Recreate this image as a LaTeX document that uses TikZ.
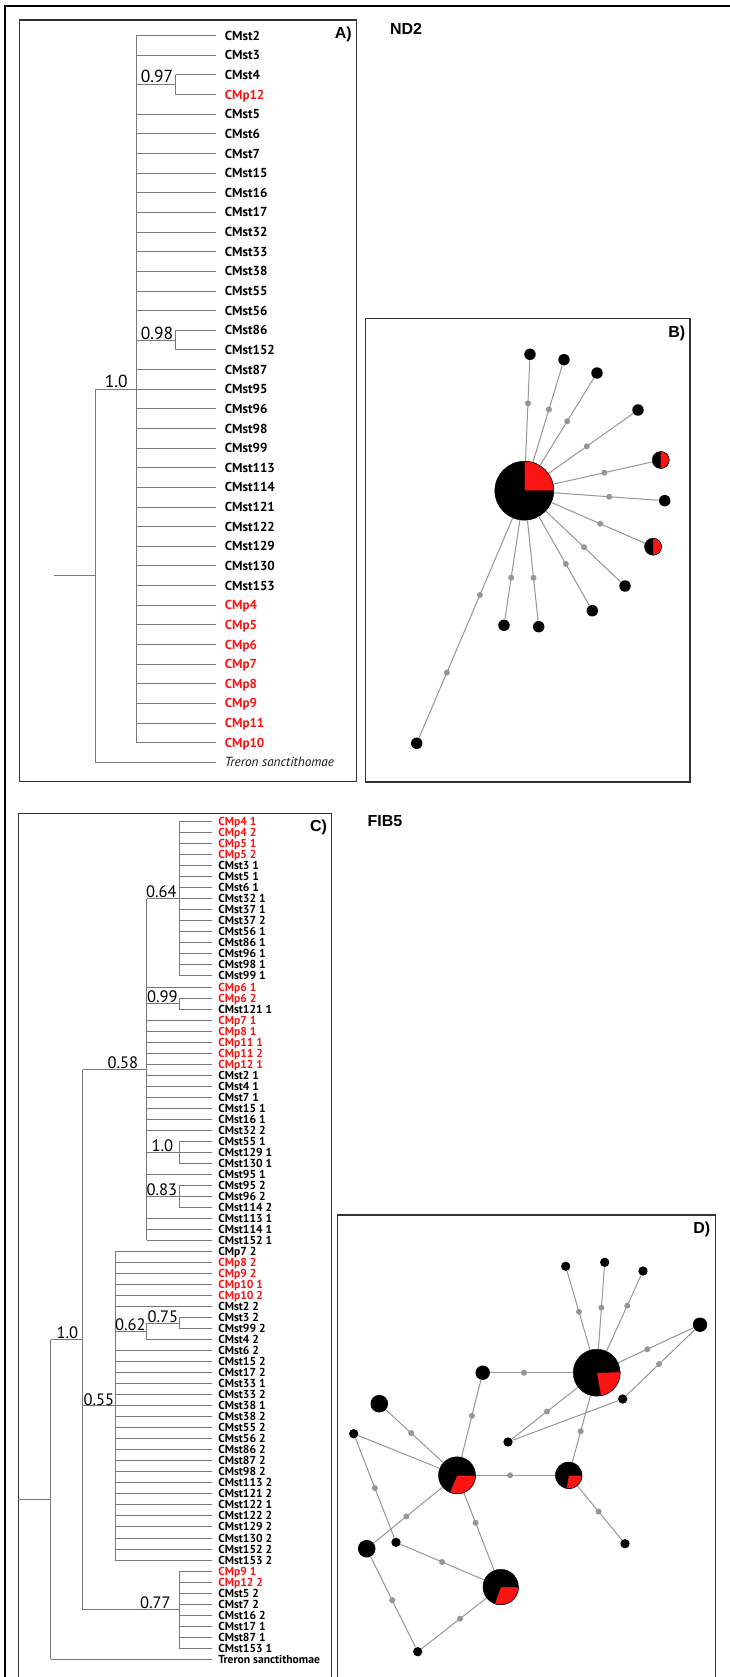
\documentclass[tikz,border=0pt]{standalone}
\usepackage{fontspec}
\usetikzlibrary{calc}
\newfontfamily\ptsans{PT Sans}
\newfontfamily\libsans{Liberation Sans}
\definecolor{myred}{RGB}{250,20,20}
\definecolor{treegray}{RGB}{120,120,120}
\definecolor{netgray}{RGB}{150,150,150}
\definecolor{boxgray}{RGB}{50,50,50}
\newcommand\RA[1]{35.7+19.64*#1}
\newcommand\RC[1]{821.7+11.02*#1}
\begin{document}
\begin{tikzpicture}[x=0.75pt,y=-0.75pt,
  tline/.style={draw=treegray,line width=0.75pt},
  panelbox/.style={draw=boxgray,line width=1pt},
  alab/.style={font=\ptsans\bfseries\fontsize{9.8}{11}\selectfont,inner sep=0pt,anchor=base west},
  clab/.style={font=\ptsans\bfseries\fontsize{8.7}{9.5}\selectfont,inner sep=0pt,anchor=base west},
  bsA/.style={font=\ptsans\fontsize{13.1}{14}\selectfont,inner sep=0pt,anchor=base east},
  bsC/.style={font=\ptsans\fontsize{12.4}{13}\selectfont,inner sep=0pt,anchor=base east},
  ptitle/.style={font=\libsans\bfseries\fontsize{12}{13}\selectfont,inner sep=0pt},
  netline/.style={draw=netgray,line width=0.75pt},
  hub/.style={circle,fill=black,draw=black,line width=0.3pt,inner sep=0pt},
  leafB/.style={circle,fill=black,inner sep=0pt,minimum size=8.6pt},
  leafD/.style={circle,fill=black,inner sep=0pt,minimum size=7pt},
  mv/.style={circle,fill=netgray,inner sep=0pt,minimum size=4.5pt},
  redpart/.style={fill=myred,draw=black,line width=0.3pt}]
\useasboundingbox (0,0) rectangle (729,1677);
\fill[white] (0,0) rectangle (729,1677);

% outer frame
\draw[black,line width=1.5pt] (5,1690) -- (5,5.7) -- (740,5.7);

% panel boxes
\draw[panelbox] (19.3,20) rectangle (356.7,781.7);
\draw[panelbox] (365.7,318.3) rectangle (690,782);
\draw[panelbox] (18.3,1690) -- (18.3,813.3) -- (331.7,813.3) -- (331.7,1690);
\draw[panelbox] (337.3,1690) -- (337.3,1215) -- (715.7,1215) -- (715.7,1690);

% titles
\node[ptitle,anchor=base east] (tA) at (352,38.5) {A)};
\node[ptitle,anchor=base east] (tB) at (685.5,337.5) {B)};
\node[ptitle,anchor=base east] (tC) at (327.3,831.5) {C)};
\node[ptitle,anchor=base east] (tD) at (710.5,1233) {D)};
\node[ptitle,anchor=base] (tND) at (406,35) {ND2};
\node[ptitle,anchor=base] (tFIB) at (385,826.7) {FIB5};

% ================= Tree A =================
\foreach \r/\p/\t/\c in {0/136/CMst2/black,1/136/CMst3/black,2/175.7/CMst4/black,3/175.7/CMp12/myred,
 4/136/CMst5/black,5/136/CMst6/black,6/136/CMst7/black,7/136/CMst15/black,8/136/CMst16/black,
 9/136/CMst17/black,10/136/CMst32/black,11/136/CMst33/black,12/136/CMst38/black,13/136/CMst55/black,
 14/136/CMst56/black,15/175.7/CMst86/black,16/175.7/CMst152/black,17/136/CMst87/black,18/136/CMst95/black,
 19/136/CMst96/black,20/136/CMst98/black,21/136/CMst99/black,22/136/CMst113/black,23/136/CMst114/black,
 24/136/CMst121/black,25/136/CMst122/black,26/136/CMst129/black,27/136/CMst130/black,28/136/CMst153/black,
 29/136/CMp4/myred,30/136/CMp5/myred,31/136/CMp6/myred,32/136/CMp7/myred,33/136/CMp8/myred,
 34/136/CMp9/myred,35/136/CMp11/myred,36/136/CMp10/myred}{
  \coordinate (ap\r) at (\p,{\RA{\r}});
  \coordinate (ae\r) at (216,{\RA{\r}});
  \draw[tline] (ap\r) -- (ae\r);
  \node[alab,text=\c] (al\r) at (224.5,{\RA{\r}+4.5}) {\t};
}
\coordinate (ap37) at (95,{\RA{37}});
\coordinate (ae37) at (216,{\RA{37}});
\draw[tline] (ap37) -- (ae37);
\node[alab,font=\ptsans\itshape\fontsize{9.9}{11}\selectfont,text=black!90] (al37) at (224.5,{\RA{37}+4.5}) {Treron sanctithomae};
% internal nodes A
\draw[tline] (136,{\RA{0}}) -- (136,{\RA{36}});
\coordinate (nA097) at (136,{\RA{2.5}});
\draw[tline] (nA097) -- (175.7,{\RA{2.5}});
\draw[tline] (175.7,{\RA{2}}) -- (175.7,{\RA{3}});
\coordinate (nA098) at (136,{\RA{15.5}});
\draw[tline] (nA098) -- (175.7,{\RA{15.5}});
\draw[tline] (175.7,{\RA{15}}) -- (175.7,{\RA{16}});
\coordinate (nA10) at (95,{\RA{18}});
\draw[tline] (nA10) -- (136,{\RA{18}});
\draw[tline] (95,{\RA{18}}) -- (95,{\RA{37}});
\coordinate (nAroot) at (54,{\RA{27.5}});
\draw[tline] (nAroot) -- (95,{\RA{27.5}});
\node[bsA] (bA1) at (173.5,83) {0.97};
\node[bsA] (bA2) at (173.5,339) {0.98};
\node[bsA] (bA3) at (128,387.5) {1.0};

% ================= Tree C =================
\foreach \r/\p/\t/\c in {0/179.3/CMp4 1/myred,1/179.3/CMp4 2/myred,2/179.3/CMp5 1/myred,3/179.3/CMp5 2/myred,
 4/179.3/CMst3 1/black,5/179.3/CMst5 1/black,6/179.3/CMst6 1/black,7/179.3/CMst32 1/black,
 8/179.3/CMst37 1/black,9/179.3/CMst37 2/black,10/179.3/CMst56 1/black,11/179.3/CMst86 1/black,
 12/179.3/CMst96 1/black,13/179.3/CMst98 1/black,14/179.3/CMst99 1/black,15/146.7/CMp6 1/myred,
 16/179.3/CMp6 2/myred,17/179.3/CMst121 1/black,18/146.7/CMp7 1/myred,19/146.7/CMp8 1/myred,
 20/146.7/CMp11 1/myred,21/146.7/CMp11 2/myred,22/146.7/CMp12 1/myred,23/146.7/CMst2 1/black,
 24/146.7/CMst4 1/black,25/146.7/CMst7 1/black,26/146.7/CMst15 1/black,27/146.7/CMst16 1/black,
 28/146.7/CMst32 2/black,29/179.3/CMst55 1/black,30/179.3/CMst129 1/black,31/179.3/CMst130 1/black,
 32/146.7/CMst95 1/black,33/179.3/CMst95 2/black,34/179.3/CMst96 2/black,35/179.3/CMst114 2/black,
 36/146.7/CMst113 1/black,37/146.7/CMst114 1/black,38/146.7/CMst152 1/black,
 39/115/CMp7 2/black,40/115/CMp8 2/myred,41/115/CMp9 2/myred,42/115/CMp10 1/myred,43/115/CMp10 2/myred,
 44/115/CMst2 2/black,45/179.3/CMst3 2/black,46/179.3/CMst99 2/black,47/146.7/CMst4 2/black,
 48/115/CMst6 2/black,49/115/CMst15 2/black,50/115/CMst17 2/black,51/115/CMst33 1/black,
 52/115/CMst33 2/black,53/115/CMst38 1/black,54/115/CMst38 2/black,55/115/CMst55 2/black,
 56/115/CMst56 2/black,57/115/CMst86 2/black,58/115/CMst87 2/black,59/115/CMst98 2/black,
 60/115/CMst113 2/black,61/115/CMst121 2/black,62/115/CMst122 1/black,63/115/CMst122 2/black,
 64/115/CMst129 2/black,65/115/CMst130 2/black,66/115/CMst152 2/black,67/115/CMst153 2/black,
 68/179.3/CMp9 1/myred,69/179.3/CMp12 2/myred,70/179.3/CMst5 2/black,71/179.3/CMst7 2/black,
 72/179.3/CMst16 2/black,73/179.3/CMst17 1/black,74/179.3/CMst87 1/black,75/179.3/CMst153 1/black,
 76/50.7/Treron sanctithomae/black}{
  \coordinate (cp\r) at (\p,{\RC{\r}});
  \coordinate (ce\r) at (211.7,{\RC{\r}});
  \draw[tline] (cp\r) -- (ce\r);
  \node[clab,text=\c] (cl\r) at (218,{\RC{\r}+4}) {\t};
}
% internal nodes C
\draw[tline] (179.3,{\RC{0}}) -- (179.3,{\RC{14}});
\coordinate (nC064) at (146.7,{\RC{7}});
\draw[tline] (nC064) -- (179.3,{\RC{7}});
\draw[tline] (179.3,{\RC{16}}) -- (179.3,{\RC{17}});
\coordinate (nC099) at (146.7,{\RC{16.5}});
\draw[tline] (nC099) -- (179.3,{\RC{16.5}});
\draw[tline] (179.3,{\RC{29}}) -- (179.3,{\RC{31}});
\coordinate (nC10b) at (146.7,{\RC{30}});
\draw[tline] (nC10b) -- (179.3,{\RC{30}});
\draw[tline] (179.3,{\RC{33}}) -- (179.3,{\RC{35}});
\coordinate (nC083) at (146.7,{\RC{34}});
\draw[tline] (nC083) -- (179.3,{\RC{34}});
\draw[tline] (146.7,{\RC{7}}) -- (146.7,{\RC{38}});
\coordinate (nC058) at (82.7,{\RC{22.5}});
\draw[tline] (nC058) -- (146.7,{\RC{22.5}});
\draw[tline] (179.3,{\RC{45}}) -- (179.3,{\RC{46}});
\coordinate (nC075) at (146.7,{\RC{45.5}});
\draw[tline] (nC075) -- (179.3,{\RC{45.5}});
\draw[tline] (146.7,{\RC{45.5}}) -- (146.7,{\RC{47}});
\coordinate (nC062) at (115,{\RC{46.25}});
\draw[tline] (nC062) -- (146.7,{\RC{46.25}});
\draw[tline] (115,{\RC{39}}) -- (115,{\RC{67}});
\coordinate (nC055) at (82.7,{\RC{53}});
\draw[tline] (nC055) -- (115,{\RC{53}});
\draw[tline] (179.3,{\RC{68}}) -- (179.3,{\RC{75}});
\coordinate (nC077) at (82.7,{\RC{71.5}});
\draw[tline] (nC077) -- (179.3,{\RC{71.5}});
\draw[tline] (82.7,{\RC{22.5}}) -- (82.7,{\RC{71.5}});
\coordinate (nC10a) at (50.7,{\RC{47}});
\draw[tline] (nC10a) -- (82.7,{\RC{47}});
\draw[tline] (50.7,{\RC{47}}) -- (50.7,{\RC{76}});
\coordinate (nCroot) at (18.3,{\RC{61.5}});
\draw[tline] (nCroot) -- (50.7,{\RC{61.5}});
\node[bsC] (bC1) at (177,897.5) {0.64};
\node[bsC] (bC2) at (178,1002.5) {0.99};
\node[bsC] (bC3) at (138.5,1068.5) {0.58};
\node[bsC] (bC4) at (173.5,1151) {1.0};
\node[bsC] (bC5) at (177.5,1195.5) {0.83};
\node[bsC] (bC6) at (178.5,1322) {0.75};
\node[bsC] (bC7) at (146,1330.5) {0.62};
\node[bsC] (bC8) at (114.5,1405) {0.55};
\node[bsC] (bC9) at (171,1608.5) {0.77};
\node[bsC] (bC10) at (78.5,1338.5) {1.0};

% ================= Network B =================
\node[hub,minimum size=44.2pt] (Bc) at (524.3,490.7) {};
\node[leafB] (B1) at (530,354.3) {};
\node[leafB] (B2) at (564,359.7) {};
\node[leafB] (B3) at (597,373) {};
\node[leafB] (B4) at (638,410) {};
\node[hub,minimum size=12.8pt] (B5) at (660.7,460) {};
\node[leafB] (B6) at (664.7,500.7) {};
\node[hub,minimum size=12.8pt] (B7) at (653,546.7) {};
\node[leafB] (B8) at (625,586) {};
\node[leafB] (B9) at (592.3,610.7) {};
\node[leafB] (B10) at (538.7,626.7) {};
\node[leafB] (B11) at (504,625.3) {};
\node[leafB] (B12) at (416.7,743.3) {};
\foreach \n/\t in {1/0.64,2/0.62,3/0.59,4/0.55,5/0.587,6/0.605,7/0.59,8/0.593,9/0.61,10/0.64,11/0.646}{
  \draw[netline] (Bc) -- (B\n);
  \node[mv] (bm\n) at ($(Bc)!\t!(B\n)$) {};
}
\draw[netline] (Bc) -- (B12);
\node[mv] (bm12a) at ($(Bc)!0.413!(B12)$) {};
\node[mv] (bm12b) at ($(Bc)!0.72!(B12)$) {};
\draw[redpart] (Bc.center) -- ++(0:22.1pt) arc[start angle=0,end angle=90,radius=22.1pt] -- cycle;
\draw[redpart] (B5.center) -- ++(-90:6.4pt) arc[start angle=-90,end angle=90,radius=6.4pt] -- cycle;
\draw[redpart] (B7.center) -- ++(-90:6.4pt) arc[start angle=-90,end angle=90,radius=6.4pt] -- cycle;

% ================= Network D =================
\node[hub,minimum size=35.2pt] (N1) at (596.7,1372.7) {};
\node[hub,minimum size=27.8pt] (N2) at (457,1475.3) {};
\node[hub,minimum size=20pt] (N3) at (568.7,1475.3) {};
\node[hub,minimum size=26.6pt] (N4) at (500.7,1587) {};
\node[leafD] (Da) at (565.7,1266.3) {};
\node[leafD] (Db) at (604.7,1262.3) {};
\node[leafD] (Dc) at (643,1271) {};
\node[leafD,minimum size=10.8pt] (Dd) at (700,1324.7) {};
\node[leafD,minimum size=10.8pt] (De) at (482.7,1372.7) {};
\node[leafD] (Df) at (622.7,1399) {};
\node[leafD] (Dg) at (508,1442) {};
\node[leafD,minimum size=13.2pt] (Dh) at (379.3,1403.7) {};
\node[leafD] (Di) at (353.7,1433.7) {};
\node[leafD,minimum size=13.2pt] (Dj) at (366.7,1548.7) {};
\node[leafD] (Dk) at (396,1542.3) {};
\node[leafD] (Dl) at (625,1543.7) {};
\node[leafD] (Dm) at (417.7,1651.7) {};
\foreach \a/\b/\t [count=\k] in {N1/Da/0.573,N1/Db/0.589,N1/Dc/0.66,N1/Dd/0.49,Dd/Df/0.53,N1/De/0.638,
  N1/Dg/0.56,N1/N3/0.57,De/N2/0.42,Dh/N2/0.41,Di/Dk/0.5,N2/N3/0.475,N3/Dl/0.53,N2/Dj/0.56,
  N2/N4/0.425,Dk/N4/0.44,Dj/Dm/0.5,Dm/N4/0.51}{
  \draw[netline] (\a) -- (\b);
  \node[mv] (dm\k) at ($(\a)!\t!(\b)$) {};
}
\draw[netline] (Di) -- (N2);
\draw[netline] (Df) -- (Dg);
\draw[redpart] (N1.center) -- ++(-80:17.6pt) arc[start angle=-80,end angle=2,radius=17.6pt] -- cycle;
\draw[redpart] (N2.center) -- ++(-113:13.9pt) arc[start angle=-113,end angle=0,radius=13.9pt] -- cycle;
\draw[redpart] (N3.center) -- ++(-100:10pt) arc[start angle=-100,end angle=0,radius=10pt] -- cycle;
\draw[redpart] (N4.center) -- ++(-110:13.3pt) arc[start angle=-110,end angle=0,radius=13.3pt] -- cycle;
\end{tikzpicture}
\end{document}
